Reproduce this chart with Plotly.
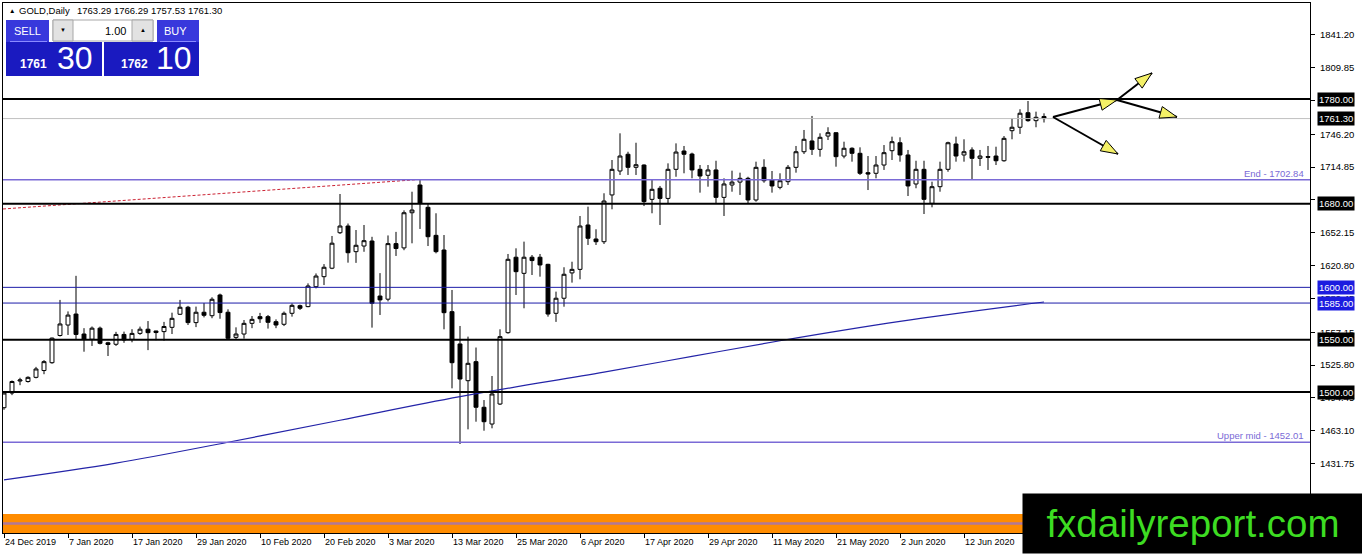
import plotly.graph_objects as go

# ---------------- data ----------------
tick_labels = ["24 Dec 2019", "7 Jan 2020", "17 Jan 2020", "29 Jan 2020", "10 Feb 2020",
               "20 Feb 2020", "3 Mar 2020", "13 Mar 2020", "25 Mar 2020", "6 Apr 2020",
               "17 Apr 2020", "29 Apr 2020", "11 May 2020", "21 May 2020", "2 Jun 2020",
               "12 Jun 2020"]

opens = [1485, 1499, 1510.5, 1510, 1514, 1520.5, 1528, 1554, 1564, 1574.5,
         1555.4, 1550.4, 1561, 1547, 1545.6, 1555, 1550.3, 1556, 1560, 1558.3,
         1557.7, 1561.8, 1574.3, 1581, 1566.3, 1576.2, 1572.9, 1592.7, 1576.2, 1552.2,
         1555.4, 1565.6, 1572, 1572, 1567.2, 1564.7, 1575.2, 1582.5, 1581.6, 1600.6,
         1610.2, 1618.3, 1652.2, 1658.6, 1634.1, 1639.5, 1644.3, 1591.7, 1588.7, 1641.8,
         1637.7, 1671.3, 1697.8, 1676.5, 1649.7, 1635.7, 1576.8, 1545.9, 1510.8, 1529,
         1485.4, 1469.4, 1488.5, 1556.7, 1628.8, 1613.4, 1628.8, 1628.8, 1622, 1575.2,
         1589.6, 1613.8, 1617.2, 1659.6, 1646.2, 1643.6, 1688.3, 1711.2, 1727.2, 1714.7,
         1716.9, 1684.1, 1694.7, 1685, 1712.8, 1730.3, 1727.4, 1712.8, 1707.1, 1712.2,
         1686, 1697.8, 1700.6, 1704.2, 1683.5, 1714.7, 1702.6, 1695.6, 1701, 1714.7,
         1729.6, 1739.9, 1731.9, 1744.6, 1747.8, 1725.5, 1732.9, 1728.1, 1709.6, 1709,
         1716.9, 1730.6, 1738.2, 1726.5, 1698.8, 1712.8, 1680.3, 1696.2, 1712.8, 1737,
         1726.5, 1731.3, 1723.3, 1725, 1725.5, 1721, 1749.7, 1753, 1766.9, 1759.3,
         1763.29]

highs = [1500, 1511, 1513.6, 1515, 1524, 1530.5, 1552, 1588, 1577, 1611,
         1561, 1562.6, 1562.5, 1548, 1557.5, 1557.7, 1560, 1562.5, 1567.8, 1558.5,
         1567, 1575.8, 1588, 1582.3, 1581.6, 1585, 1590.5, 1594, 1579, 1561.8,
         1568.8, 1572.6, 1575.6, 1573.6, 1569.4, 1576.9, 1584.7, 1583.5, 1603.8, 1613.3,
         1622.2, 1649.1, 1689.2, 1661, 1654.8, 1659.6, 1648.3, 1613.6, 1649.6, 1653,
         1673.6, 1691.4, 1702.84, 1680.3, 1670.8, 1650, 1597.5, 1563.1, 1552.9, 1542.5,
         1492.3, 1515.3, 1559.9, 1631.9, 1637.3, 1643.7, 1630.9, 1631.9, 1622.5, 1595.9,
         1619.2, 1624.5, 1668.2, 1677.1, 1655.5, 1689.9, 1721.7, 1747.2, 1729.6, 1738.2,
         1717.5, 1702.6, 1696.9, 1718.5, 1737.6, 1735.1, 1728.7, 1716.9, 1716.9, 1721,
         1704.2, 1711.5, 1709.6, 1705.7, 1720.1, 1722.4, 1711.2, 1709, 1716.9, 1735.1,
         1750.4, 1763.8, 1747.2, 1753, 1748, 1739.2, 1733.8, 1733.8, 1725.5, 1725.5,
         1736, 1744, 1743.4, 1731.3, 1721, 1721, 1701, 1720.1, 1739.2, 1744,
         1741.5, 1733.8, 1731.3, 1735.1, 1734.4, 1744.6, 1761.6, 1770.2, 1778.1, 1767.9,
         1766.29]

lows = [1483, 1497, 1506.5, 1509, 1513, 1517, 1527, 1553, 1554.5, 1550.5,
        1538.5, 1544, 1545.5, 1534.4, 1544, 1547, 1547.5, 1554.6, 1540, 1549.5,
        1549, 1555.4, 1573.6, 1564, 1562, 1571.3, 1570.5, 1570, 1549.7, 1550,
        1551, 1561, 1566, 1560.6, 1561, 1563, 1572, 1578.4, 1581, 1599,
        1602.2, 1617.4, 1651, 1623.6, 1623.4, 1634, 1561.5, 1573.6, 1586.6, 1630,
        1635.5, 1642.1, 1655.8, 1639.5, 1632.5, 1559.9, 1503.5, 1450.3, 1464.3, 1471.6,
        1463, 1465.3, 1487.6, 1555.7, 1592.7, 1580, 1611.8, 1610.2, 1572, 1567,
        1581.5, 1604.5, 1607.7, 1640.5, 1640.5, 1641.4, 1674.6, 1707.4, 1707.4, 1707.4,
        1677.7, 1670.8, 1659.6, 1680.3, 1705.7, 1709, 1704.2, 1690.5, 1696.2, 1680.3,
        1668.2, 1691.4, 1688.3, 1680.3, 1681.9, 1700, 1690.5, 1693.7, 1697.8, 1709.6,
        1727.4, 1726.5, 1724.9, 1740.8, 1715.3, 1723.3, 1720.1, 1707.4, 1693, 1704.2,
        1712.2, 1721.7, 1720.1, 1687.3, 1694.7, 1670.1, 1676.5, 1691.4, 1710.5, 1720.1,
        1720.1, 1703.3, 1716, 1712.2, 1716.9, 1720.1, 1741.5, 1746.6, 1758.3, 1753,
        1757.53]

closes = [1499, 1510, 1511.5, 1514, 1522, 1529, 1551.5, 1565, 1573.5, 1555,
          1550.4, 1561, 1546.5, 1545.4, 1555, 1549.7, 1556, 1560, 1556.7, 1556.8,
          1562.6, 1570.4, 1581, 1566.3, 1576.2, 1573.3, 1588.6, 1575.9, 1551.3, 1555.4,
          1565.6, 1569.4, 1570, 1566.6, 1564, 1575.2, 1582.8, 1580, 1601.3, 1610.8,
          1619.2, 1642.2, 1658.6, 1633.1, 1640.2, 1644.6, 1584.8, 1588, 1641.8, 1637.1,
          1671.3, 1673.9, 1680.3, 1648.4, 1634.1, 1575.8, 1528, 1512.4, 1527.4, 1485.4,
          1471.6, 1498.1, 1552.9, 1626.8, 1615, 1628.8, 1625.6, 1621.4, 1574.5, 1589.6,
          1612.5, 1617.2, 1658.6, 1646.9, 1643.6, 1682.5, 1712.8, 1725.5, 1714.7, 1717.2,
          1681.9, 1693.7, 1685, 1712.8, 1729.3, 1727.2, 1712.2, 1706.4, 1712.2, 1686,
          1698.8, 1700.6, 1704.2, 1683.5, 1714.7, 1701.9, 1696.9, 1701.9, 1714.7, 1729.6,
          1741.5, 1731.9, 1743.4, 1747.8, 1724.9, 1732.9, 1728.1, 1709, 1708.3, 1716.9,
          1728.7, 1739.2, 1726.5, 1696.9, 1712.8, 1684.1, 1696.2, 1712.8, 1738.2, 1725.5,
          1729.6, 1723.3, 1725.5, 1724.3, 1721, 1742.4, 1753, 1766.4, 1759.3, 1762.5,
          1761.30]

ma_bars = [0, 14, 28, 42, 57, 75, 86, 97, 112, 130]
ma_vals = [1416, 1432, 1452, 1473, 1495.5, 1519, 1534, 1549, 1567.5, 1586]

trend_bars = [-0.125, 51.5]
trend_vals = [1674.9, 1702.84]

y_ticks = [1841.20, 1809.85, 1778.50, 1746.20, 1714.85, 1683.50, 1652.15, 1620.80,
           1589.45, 1557.15, 1525.80, 1494.45, 1463.10, 1431.75, 1400.40]
black_levels = [1780.00, 1680.00, 1550.00, 1500.00]
blue_levels = [1600.00, 1585.00]
named_levels = [1702.84, 1452.01]
named_texts = ["End - 1702.84", "Upper mid - 1452.01"]
bid_price = 1761.30
zone_low, zone_high, zone_mid = 1360.0, 1383.4, 1374.3
header_values = "1763.29 1766.29 1757.53 1761.30"

# ---------------- geometry ----------------
W, H = 1362, 554
ML, MR, MT, MB = 3, 52, 3, 21
PW, PH = W - ML - MR, H - MT - MB
X_RANGE = [-0.125, 163.25]
Y_RANGE = [1365.25, 1871.74]


def xp(px):
    return (px - ML) / PW


def yp(py):
    return (MT + PH - py) / PH


def dx(px):
    return X_RANGE[0] + (px - ML) / PW * (X_RANGE[1] - X_RANGE[0])


def dy(py):
    return Y_RANGE[1] - (py - MT) / PH * (Y_RANGE[1] - Y_RANGE[0])


FONT = "Liberation Sans, Arial, sans-serif"
idx = list(range(len(opens)))

fig = go.Figure()
fig.add_trace(go.Candlestick(
    x=idx, open=opens, high=highs, low=lows, close=closes,
    increasing=dict(line=dict(color="black", width=1), fillcolor="white"),
    decreasing=dict(line=dict(color="black", width=1), fillcolor="black"),
    whiskerwidth=0, hoverinfo="skip", showlegend=False))
fig.add_trace(go.Scatter(x=ma_bars, y=ma_vals, mode="lines", line_shape="spline",
                         line=dict(color="#2424a8", width=1.2),
                         hoverinfo="skip", showlegend=False))
fig.add_trace(go.Scatter(x=trend_bars, y=trend_vals, mode="lines",
                         line=dict(color="#cc2233", width=1, dash="3px,2px"),
                         hoverinfo="skip", showlegend=False))

shapes = []
annotations = []

# zone at bottom
shapes.append(dict(type="rect", xref="paper", yref="y", x0=0, x1=1, y0=zone_low, y1=zone_high,
                   fillcolor="#ff8c00", line=dict(width=0), layer="below"))
shapes.append(dict(type="line", xref="paper", yref="y", x0=0, x1=1, y0=zone_mid, y1=zone_mid,
                   line=dict(color="#b07898", width=2.5), layer="below"))

# horizontal levels
shapes.append(dict(type="line", xref="paper", yref="y", x0=0, x1=1, y0=bid_price, y1=bid_price,
                   line=dict(color="#c0c0c0", width=1)))
for lv in named_levels:
    shapes.append(dict(type="line", xref="paper", yref="y", x0=0, x1=1, y0=lv, y1=lv,
                       line=dict(color="#7a6ad6", width=1.6)))
for lv in blue_levels:
    shapes.append(dict(type="line", xref="paper", yref="y", x0=0, x1=1, y0=lv, y1=lv,
                       line=dict(color="#1c1ca8", width=1)))
for lv in black_levels:
    shapes.append(dict(type="line", xref="paper", yref="y", x0=0, x1=1, y0=lv, y1=lv,
                       line=dict(color="black", width=2)))

for lv, txt in zip(named_levels, named_texts):
    annotations.append(dict(xref="paper", yref="y", x=xp(1306), y=lv, text=txt,
                            xanchor="right", yanchor="bottom", showarrow=False, yshift=-1,
                            font=dict(family=FONT, size=9.5, color="#7a6ad6")))

# price boxes on the right axis
def price_box(v, bg):
    annotations.append(dict(xref="paper", yref="y", x=1, xshift=7, y=v, text="%.2f" % v,
                            xanchor="left", yanchor="middle", showarrow=False,
                            bgcolor=bg, borderpad=1,
                            font=dict(family=FONT, size=9.5, color="white")))

for lv in black_levels:
    price_box(lv, "black")
price_box(bid_price, "black")
for lv in blue_levels:
    price_box(lv, "#1c1ce0")

# arrows (drawn objects)
def arrow(p0, p1):
    x0, y0 = p0
    x1, y1 = p1
    shapes.append(dict(type="line", xref="x", yref="y", x0=dx(x0), y0=dy(y0), x1=dx(x1), y1=dy(y1),
                       line=dict(color="black", width=2)))
    L = ((x1 - x0) ** 2 + (y1 - y0) ** 2) ** 0.5
    ux, uy = (x1 - x0) / L, (y1 - y0) / L
    nx, ny = -uy, ux
    bx, by = x1 - 17 * ux, y1 - 17 * uy
    pts = [(x1, y1), (bx + 6 * nx, by + 6 * ny), (bx - 6 * nx, by - 6 * ny)]
    path = "M %f,%f L %f,%f L %f,%f Z" % tuple(v for p in pts for v in (dx(p[0]), dy(p[1])))
    shapes.append(dict(type="path", xref="x", yref="y", path=path,
                       fillcolor="#f4f066", line=dict(color="black", width=1)))

A = (1053, 117)
B = (1117, 100)
arrow(A, B)
arrow(A, (1118, 154))
arrow(B, (1152, 73))
arrow(B, (1177, 117))

# ---------------- one-click trading panel ----------------
def prect(x0, y0, x1, y1, fill, line=None, lw=0):
    shapes.append(dict(type="rect", xref="paper", yref="paper",
                       x0=xp(x0), x1=xp(x1), y0=yp(y1), y1=yp(y0),
                       fillcolor=fill, line=dict(color=line or fill, width=lw)))


def ptext(px, py, text, size, color, xanchor="center", bold=False, family=FONT):
    t = "<b>%s</b>" % text if bold else text
    annotations.append(dict(xref="paper", yref="paper", x=xp(px), y=yp(py), text=t,
                            xanchor=xanchor, yanchor="middle", showarrow=False,
                            font=dict(family=family, size=size, color=color)))


prect(6, 20, 49, 42, "#3838dc")
prect(6, 42, 102, 76, "#1a1ac0")
prect(157, 20, 199, 42, "#3838dc")
prect(104, 42, 199, 76, "#1a1ac0")
prect(53, 20, 153, 41, "white", "#a8a8a8", 1)
prect(53, 20, 73, 41, "#e2e2e2", "#a8a8a8", 1)
prect(132, 20, 153, 41, "#e2e2e2", "#a8a8a8", 1)
shapes.append(dict(type="line", xref="paper", yref="paper", x0=xp(10), x1=xp(47), y0=yp(41.5), y1=yp(41.5),
                   line=dict(color="#8a8aff", width=1)))
shapes.append(dict(type="line", xref="paper", yref="paper", x0=xp(160), x1=xp(196), y0=yp(41.5), y1=yp(41.5),
                   line=dict(color="#8a8aff", width=1)))

ptext(27.5, 31, "SELL", 11, "white")
ptext(175, 31, "BUY", 11, "white")
ptext(63, 30, "▼", 6, "black")
ptext(142.5, 30, "▲", 6, "black")
ptext(128, 30.5, "1.00", 11, "black", xanchor="right")
ptext(33.5, 64, "1761", 12, "white", bold=True)
ptext(55, 58, "30", 32, "white", xanchor="left")
ptext(134, 64, "1762", 12, "white", bold=True)
ptext(154, 58, "10", 32, "white", xanchor="left")

ptext(12, 10.5, "▲", 6.5, "black")
ptext(17, 10.5, "GOLD,Daily", 9.5, "black", xanchor="left")
ptext(75, 10.5, header_values, 9.5, "black", xanchor="left")

# logo
annotations.append(dict(xref="paper", yref="paper", x=xp(1022), y=yp(554), xanchor="left", yanchor="bottom",
                        width=340, height=59, bgcolor="black", borderpad=0, showarrow=False,
                        text="fxdailyreport.com", align="center", valign="middle", yshift=0,
                        font=dict(family="Liberation Sans, Arial, sans-serif",
                                  size=38.5, color="#3ddc22")))

fig.update_layout(
    width=W, height=H,
    margin=dict(l=ML, r=MR, t=MT, b=MB, autoexpand=False),
    paper_bgcolor="white", plot_bgcolor="white",
    showlegend=False, shapes=shapes, annotations=annotations,
    xaxis=dict(range=X_RANGE, showgrid=False, zeroline=False, rangeslider=dict(visible=False),
               tickvals=list(range(0, 8 * len(tick_labels), 8)), ticktext=tick_labels,
               ticks="outside", ticklen=4, tickcolor="black", ticklabelposition="outside right",
               tickfont=dict(family=FONT, size=9, color="black"),
               showline=True, linecolor="black", linewidth=1, mirror=True, fixedrange=True),
    yaxis=dict(range=Y_RANGE, side="right", showgrid=False, zeroline=False,
               tickvals=y_ticks, ticktext=["%.2f" % v for v in y_ticks],
               ticks="outside", ticklen=4, tickcolor="black", ticklabelstandoff=3,
               tickfont=dict(family=FONT, size=9.5, color="black"),
               showline=True, linecolor="black", linewidth=1, mirror=True, fixedrange=True),
)

fig.write_html("out.html", config={"displayModeBar": False},
               post_script="document.body.style.margin='0';document.body.style.padding='0';")
